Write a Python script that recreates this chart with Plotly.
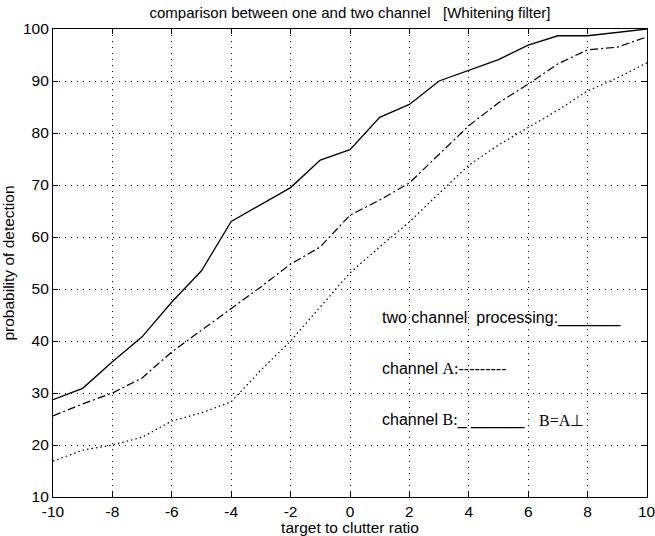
import plotly.graph_objects as go

# target to clutter ratio (dB)
snr = [-10, -9, -8, -7, -6, -5, -4, -3, -2, -1, 0, 1, 2, 3, 4, 5, 6, 7, 8, 9, 10]

# probability of detection (%)
two_channel = [28.7, 30.9, 36.0, 40.8, 47.5, 53.5, 63.0, 66.3, 69.5, 74.8, 76.8,
               83.0, 85.5, 90.0, 92.1, 94.1, 96.9, 98.7, 98.7, 99.3, 100.0]
channel_a = [25.6, 27.9, 30.0, 32.9, 37.9, 42.1, 46.2, 50.4, 54.8, 58.1, 64.2,
             67.1, 70.4, 76.0, 81.4, 85.8, 89.4, 93.3, 96.0, 96.5, 98.5]
channel_b = [16.9, 19.0, 20.0, 21.5, 24.6, 26.2, 28.3, 34.4, 40.0, 46.5, 53.1,
             58.1, 62.9, 68.4, 73.8, 77.7, 81.0, 84.4, 88.1, 90.6, 93.5]

x_ticks = [-10, -8, -6, -4, -2, 0, 2, 4, 6, 8, 10]
x_labels = ["-10", "-8", "-6", "-4", "-2", "0", "2", "4", "6", "8", "10"]
y_ticks = [10, 20, 30, 40, 50, 60, 70, 80, 90, 100]

SANS = "Liberation Sans, Arial, Helvetica, sans-serif"
SERIF = "Liberation Serif, Times New Roman, serif"
TICK_SIZE = 15.5

fig = go.Figure()
fig.add_trace(go.Scatter(x=snr, y=two_channel, mode="lines",
                         line=dict(color="black", width=1.3, dash="solid")))
fig.add_trace(go.Scatter(x=snr, y=channel_a, mode="lines",
                         line=dict(color="black", width=1.2, dash="8px,3px,2px,3px")))
fig.add_trace(go.Scatter(x=snr, y=channel_b, mode="lines",
                         line=dict(color="black", width=1.2, dash="1.5px,3px")))

axis_common = dict(
    showline=True, linecolor="black", linewidth=1.2, mirror="ticks",
    ticks="inside", ticklen=5, tickcolor="black",
    showgrid=True, gridcolor="black", gridwidth=1, griddash="1px,5px",
    zeroline=False, automargin=False,
    tickfont=dict(family=SANS, size=TICK_SIZE, color="black"),
)

fig.update_xaxes(range=[-10, 10], tickvals=x_ticks, ticktext=x_labels, **axis_common,
                 title=dict(text="target to clutter ratio", standoff=0,
                            font=dict(family=SANS, size=15.5, color="black")))
fig.update_yaxes(range=[10, 100], tickvals=y_ticks, **axis_common,
                 title=dict(text="probability of detection", standoff=4,
                            font=dict(family=SANS, size=15.5, color="black")))

nb = "\u00a0"
annotations = [
    dict(x=1, y=44.4, text=f"two channel{nb}{nb}processing:_______",
         font=dict(family=SANS, size=16, color="black")),
    dict(x=1, y=34.8,
         text=f"channel{nb}<span style='font-family:{SERIF}'>A:</span>---------",
         font=dict(family=SANS, size=16, color="black")),
    dict(x=1, y=24.8,
         text=f"channel{nb}<span style='font-family:{SERIF}'>B:</span>_{nb}______",
         font=dict(family=SANS, size=16, color="black")),
    dict(x=6.3, y=24.8, text="B=A\u22a5",
         font=dict(family=SERIF, size=16, color="black")),
]
for a in annotations:
    a.update(xref="x", yref="y", xanchor="left", yanchor="middle", showarrow=False)

# the last x tick label runs off the right edge, so it is drawn as an annotation
annotations.append(dict(x=x_ticks[-1], y=y_ticks[0], xref="x", yref="y",
                        text=x_labels[-1], showarrow=False,
                        xanchor="center", yanchor="middle", yshift=-14,
                        font=dict(family=SANS, size=TICK_SIZE, color="black")))

fig.update_layout(
    width=655, height=536,
    margin=dict(l=53, r=8, t=29, b=39),
    paper_bgcolor="white", plot_bgcolor="white",
    showlegend=False,
    title=dict(text=f"comparison between one and two channel{nb}{nb}{nb}[Whitening filter]",
               x=350 / 655, xanchor="center",
               y=1 - 13 / 536, yanchor="middle",
               font=dict(family=SANS, size=15, color="black")),
    annotations=annotations,
)

fig.write_html("out.html")
